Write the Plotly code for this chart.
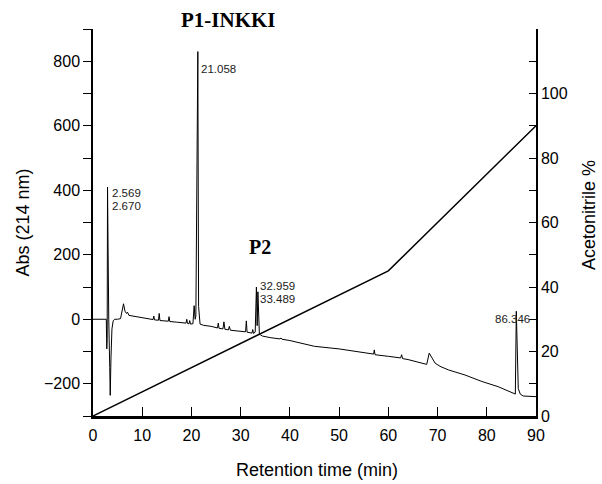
import plotly.graph_objects as go

# Chromatogram (Abs at 214 nm)
time_min = [0, 2.7, 2.8, 2.88, 2.95, 3.02, 3.08, 3.2, 3.4, 3.5, 3.65, 3.85, 4.1, 4.4, 5.0,
            5.6, 6.2, 6.5, 6.8, 7.0, 7.3, 8.0, 9.6, 11.0, 12.2, 12.35, 12.5, 13.3, 13.45, 13.6,
            15.3, 15.45, 15.6, 17.0, 18.9, 19.05, 19.2, 19.5, 19.65, 19.8, 20.3, 20.55, 20.75,
            20.9, 21.3, 21.45, 21.6, 21.75, 22.5, 24.0, 25.3, 25.45, 25.6, 26.4, 26.6, 26.8,
            27.5, 27.7, 27.9, 30.0, 31.0, 31.15, 31.3, 32.3, 32.45, 32.6, 32.95, 33.2, 33.35,
            33.5, 33.65, 33.8, 34.0, 34.4, 36.0, 38.0, 38.2, 38.4, 40.0, 45.0, 50.0, 52.0,
            55.0, 57.0, 57.15, 57.3, 60.0, 62.5, 62.7, 62.9, 64.0, 66.0, 67.8, 68.3, 68.8,
            69.5, 70.5, 72.2, 75.6, 79.0, 82.3, 85.4, 85.8, 86.0, 86.2, 86.4, 86.8, 87.4, 90.0]
absorbance = [0, 0, -92, -60, 410, 200, 370, 0, -150, -236, -120, -30, -5, 0, 0,
              2, 48, 25, 18, 22, 12, 10, 5, 1, -1, 10, -2, -3, 18, -4,
              -6, 8, -7, -9, -12, 0, -13, -14, -4, -15, -14, 42, 0,
              10, 830, 40, 20, -15, -19, -22, -27, -12, -28, -30, -8, -31,
              -33, -22, -34, -37, -39, -5, -40, -43, -32, -44, -40, 100, -20,
              85, -30, -45, -48, -52, -57, -61, -58, -62, -66, -84, -92, -96,
              -102, -108, -95, -110, -115, -120, -110, -122, -125, -133, -140, -105, -118,
              -136, -146, -157, -173, -193, -209, -230, -232, 25, -150, -215, -232, -238, -240]

# Acetonitrile gradient
grad_time = [0, 60, 90]
grad_pct = [0, 45, 90]

# Peak labels
peak_labels = ["2.569", "2.670", "21.058", "32.959", "33.489", "86.346"]
peak_label_x = [3.5, 3.5, 21.56, 33.5, 33.5, 85.3]
peak_label_y = [393, 352, 777, 104, 64, 0]
peak_label_anchor = ["left", "left", "left", "left", "left", "center"]

fig = go.Figure()
fig.add_trace(go.Scatter(x=time_min, y=absorbance, mode="lines",
                         line=dict(color="black", width=1), showlegend=False,
                         hoverinfo="skip"))
fig.add_trace(go.Scatter(x=grad_time, y=grad_pct, mode="lines", yaxis="y2",
                         line=dict(color="black", width=1.5), showlegend=False,
                         hoverinfo="skip"))

ann = []
for txt, xv, yv, anc in zip(peak_labels, peak_label_x, peak_label_y, peak_label_anchor):
    ann.append(dict(x=xv, y=yv, xref="x", yref="y", text=txt, showarrow=False,
                    xanchor=anc, yanchor="middle",
                    font=dict(family="Liberation Sans Narrow, Arial Narrow, Liberation Sans",
                              size=11.5, color="#222")))
ann.append(dict(x=27.5, y=1.0245, xref="x", yref="paper", text="<b>P1-INKKI</b>",
                showarrow=False, xanchor="center", yanchor="middle",
                font=dict(family="Liberation Serif, Times New Roman", size=21, color="black")))
ann.append(dict(x=33.9, y=225, xref="x", yref="y", text="<b>P2</b>",
                showarrow=False, xanchor="center", yanchor="middle",
                font=dict(family="Liberation Serif, Times New Roman", size=20, color="black")))
ann.append(dict(x=-0.16, y=0.5, xref="paper", yref="paper", text="Abs (214 nm)",
                showarrow=False, textangle=-90, xanchor="center", yanchor="middle",
                font=dict(family="Liberation Sans, Arial", size=18, color="black")))
ann.append(dict(x=1.118, y=0.52, xref="paper", yref="paper", text="Acetonitrile %",
                showarrow=False, textangle=-90, xanchor="center", yanchor="middle",
                font=dict(family="Liberation Sans, Arial", size=18, color="black")))
ann.append(dict(x=0.505, y=-0.14, xref="paper", yref="paper", text="Retention time (min)",
                showarrow=False, xanchor="center", yanchor="middle",
                font=dict(family="Liberation Sans, Arial", size=18, color="black")))

fig.update_layout(
    width=602, height=484,
    margin=dict(l=93, r=66, t=29, b=68),
    paper_bgcolor="white", plot_bgcolor="white",
    font=dict(family="Liberation Sans, Arial", size=16, color="black"),
    xaxis=dict(range=[0, 90], tickvals=[0, 10, 20, 30, 40, 50, 60, 70, 80, 90],
               ticks="inside", ticklen=9, tickwidth=1.2, tickcolor="black",
               showline=True, linecolor="black", linewidth=2.5, showgrid=False,
               zeroline=False, tickfont=dict(size=16), ticklabelstandoff=3),
    yaxis=dict(range=[-300, 900], tickvals=[-200, 0, 200, 400, 600, 800],
               ticks="outside", ticklen=8, tickwidth=1.2, tickcolor="black",
               minor=dict(tickvals=[-300, -100, 100, 300, 500, 700, 900], ticks="outside",
                          ticklen=8, tickwidth=1.2, tickcolor="black"),
               showline=True, linecolor="black", linewidth=1.5, showgrid=False,
               zeroline=False, tickfont=dict(size=16)),
    yaxis2=dict(range=[0, 120], overlaying="y", side="right",
                tickvals=[0, 20, 40, 60, 80, 100],
                ticks="inside", ticklen=7, tickwidth=1.2, tickcolor="black",
                minor=dict(tickvals=[10, 30, 50, 70, 90, 110, 120], ticks="inside",
                           ticklen=7, tickwidth=1.2, tickcolor="black"),
                showline=True, linecolor="black", linewidth=1.5, showgrid=False,
                zeroline=False, tickfont=dict(size=16)),
    annotations=ann,
)

fig.write_html("out.html")
